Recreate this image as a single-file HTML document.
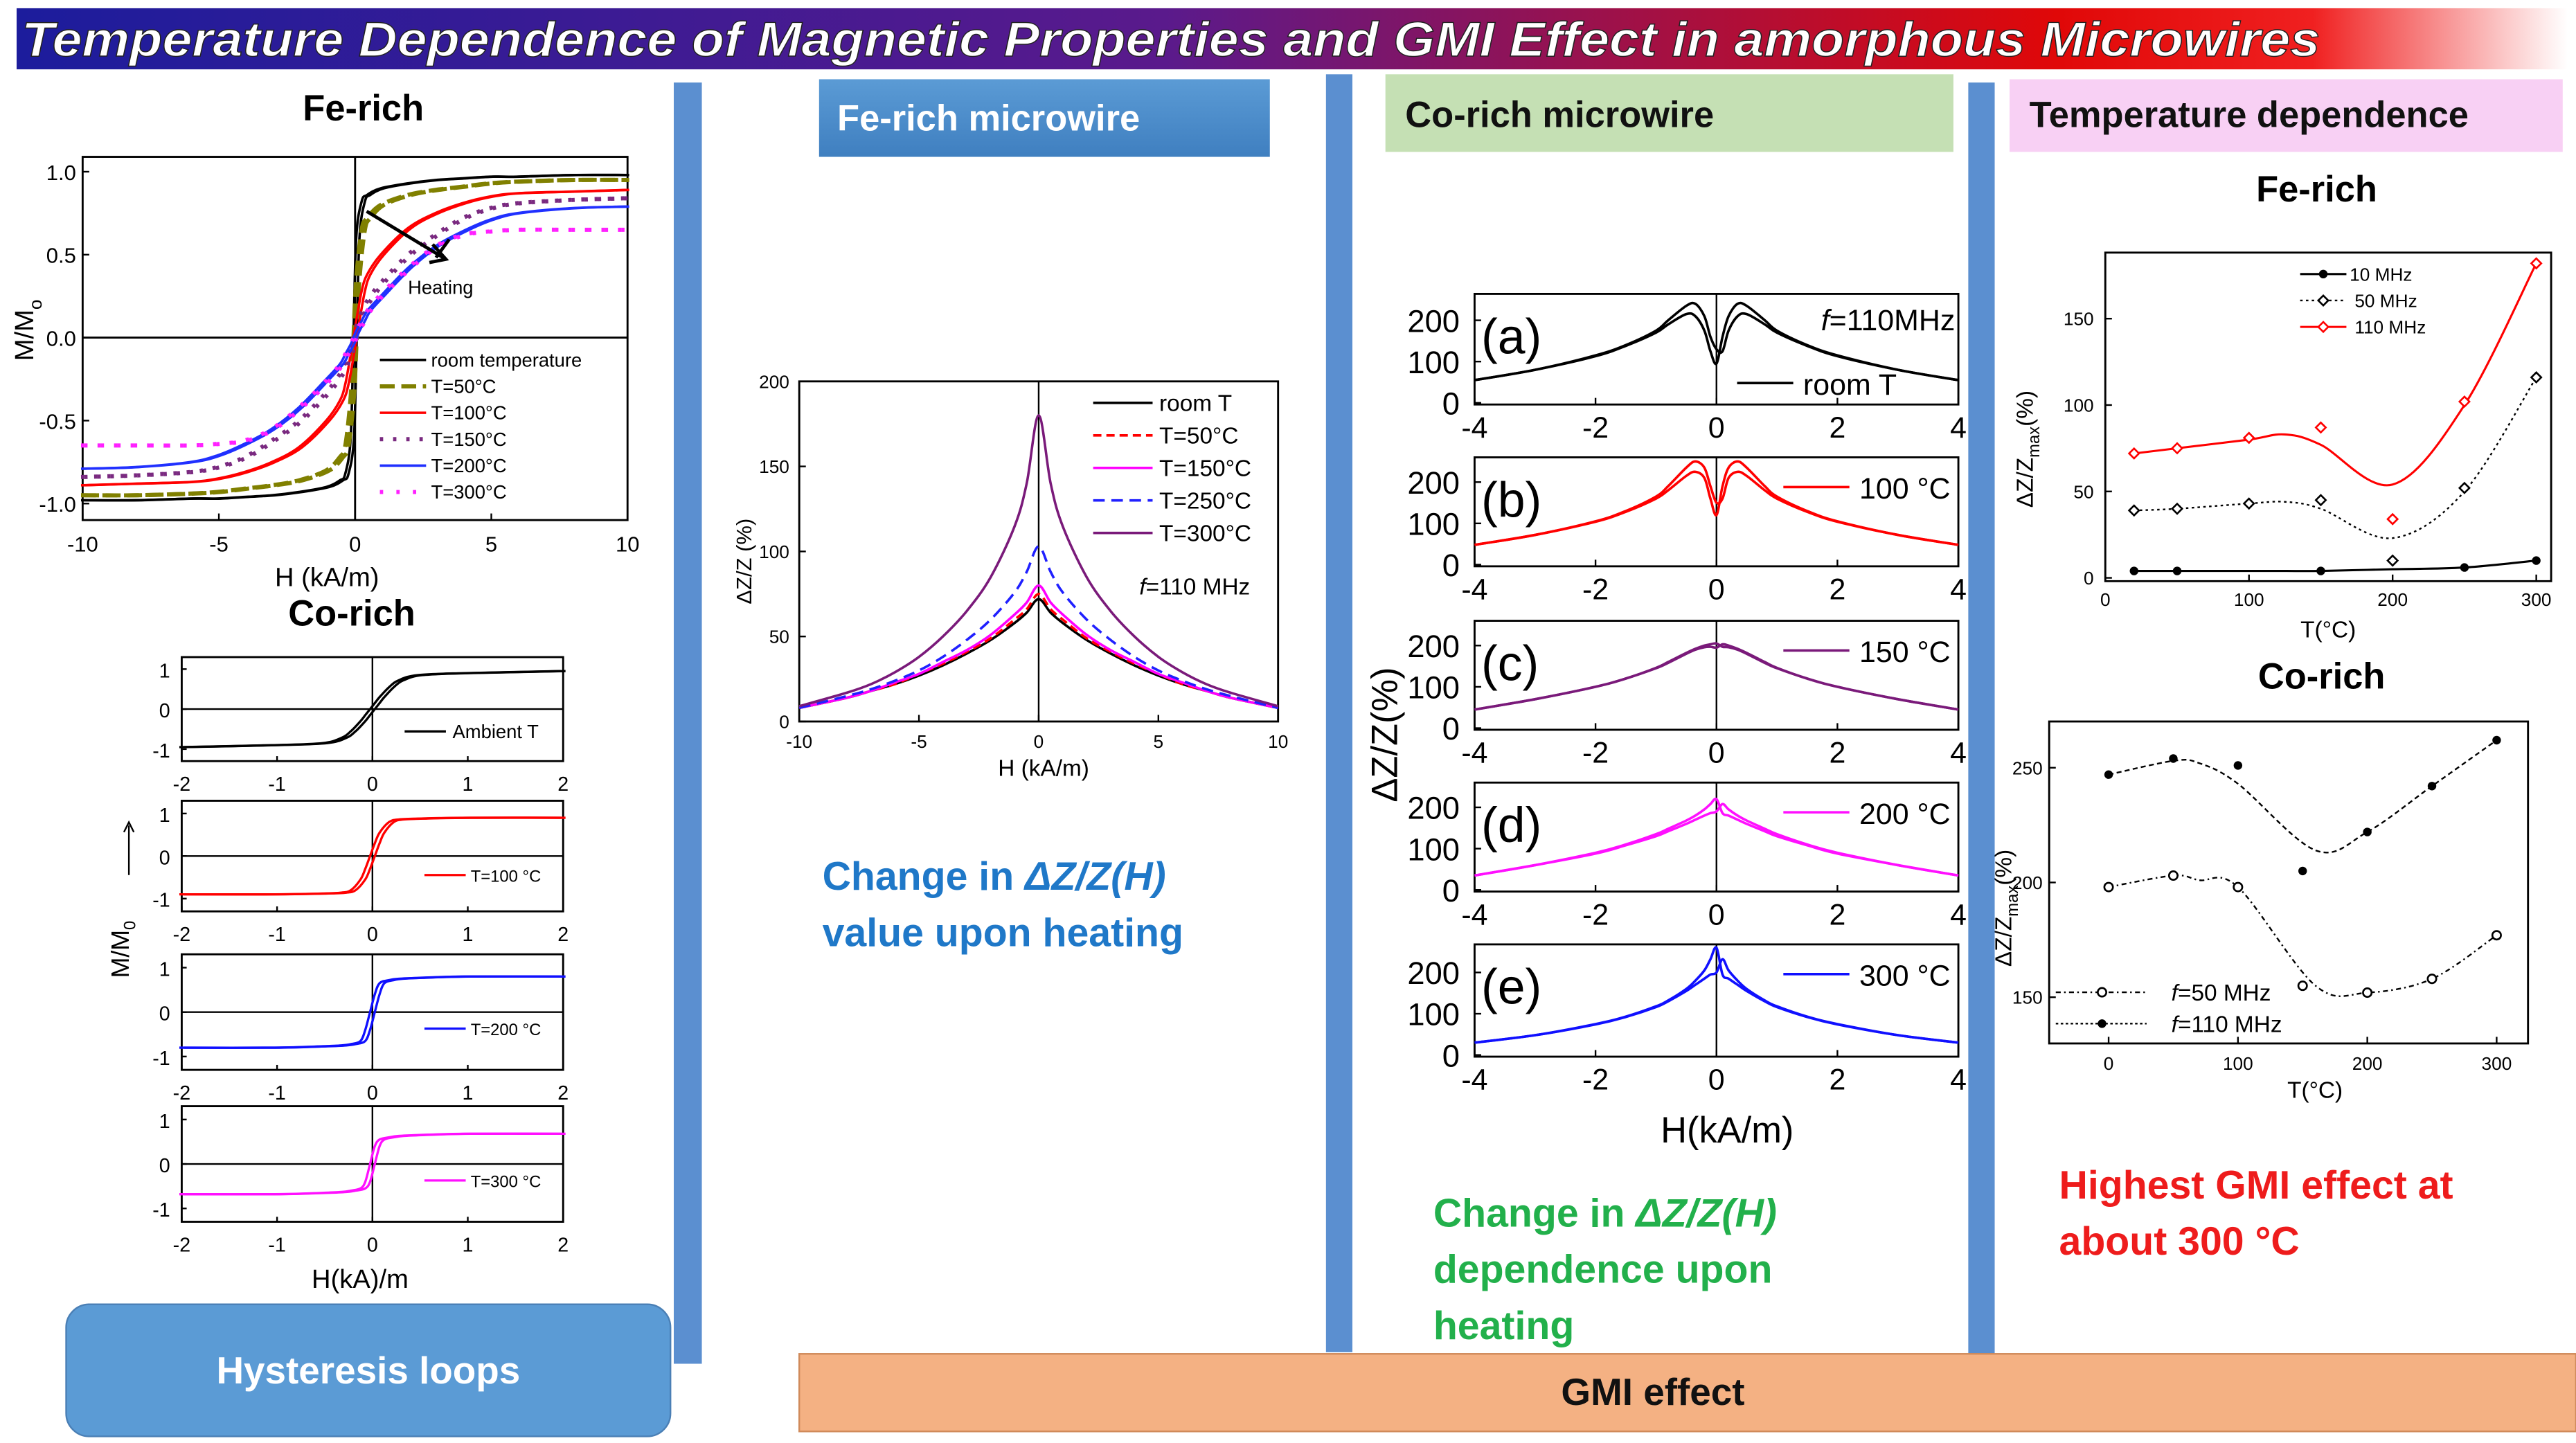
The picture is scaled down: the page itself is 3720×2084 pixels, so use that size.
<!DOCTYPE html>
<html><head><meta charset="utf-8"><style>
html,body{margin:0;padding:0;background:#fff;}
svg{display:block;}
text{font-family:"Liberation Sans",sans-serif;}
</style></head><body>
<svg id="root" xmlns="http://www.w3.org/2000/svg" width="3720" height="2084" viewBox="0 0 1560 874">
<defs>
<linearGradient id="tg" x1="0" x2="1" y1="0" y2="0">
<stop offset="0" stop-color="#1c1c9c"/><stop offset="0.45" stop-color="#5a1a8c"/><stop offset="0.8" stop-color="#e00808"/><stop offset="0.9" stop-color="#f02020"/><stop offset="1" stop-color="#ffffff"/>
</linearGradient>
<linearGradient id="bg1" x1="0" x2="0" y1="0" y2="1"><stop offset="0" stop-color="#5b9bd5"/><stop offset="1" stop-color="#3f7fc0"/></linearGradient>
</defs>
<rect x="10" y="5" width="1545" height="37" fill="url(#tg)"/>
<text x="13" y="34" font-size="29.5" font-weight="bold" font-style="italic" fill="#fff" stroke="#222" stroke-width="0.6" textLength="1392" lengthAdjust="spacingAndGlyphs">Temperature Dependence of Magnetic Properties and GMI Effect in amorphous Microwires</text>
<rect x="408" y="50" width="17" height="776" fill="#5b8fd0"/>
<rect x="803" y="45" width="16" height="774" fill="#5b8fd0"/>
<rect x="1192" y="50" width="16" height="776" fill="#5b8fd0"/>
<rect x="496" y="48" width="273" height="47" fill="url(#bg1)"/>
<text x="507" y="79" font-size="22" font-weight="bold" fill="#fff">Fe-rich microwire</text>
<rect x="839" y="45" width="344" height="47" fill="#c5e0b4"/>
<text x="851" y="77" font-size="22" font-weight="bold" fill="#111">Co-rich microwire</text>
<rect x="1217" y="48" width="335" height="44" fill="#f8d0f4"/>
<text x="1229" y="77" font-size="22" font-weight="bold" fill="#111">Temperature dependence</text>
<text x="220" y="73" font-size="22" font-weight="bold" text-anchor="middle">Fe-rich</text>
<text x="213" y="379" font-size="22" font-weight="bold" text-anchor="middle">Co-rich</text>
<text x="1403" y="122" font-size="22" font-weight="bold" text-anchor="middle">Fe-rich</text>
<text x="1406" y="417" font-size="22" font-weight="bold" text-anchor="middle">Co-rich</text>
<rect x="40" y="790" width="366" height="80" rx="14" fill="#5b9bd5" stroke="#4a7fb5"/>
<text x="223" y="838" font-size="23" font-weight="bold" fill="#fff" text-anchor="middle">Hysteresis  loops</text>
<rect x="484" y="820" width="1076" height="47" fill="#f4b183" stroke="#d08a5a"/>
<text x="1001" y="851" font-size="23" font-weight="bold" fill="#111" text-anchor="middle">GMI effect</text>
<text x="498" y="539" font-size="24" font-weight="bold" fill="#1f78c8">Change in <tspan font-style="italic">ΔZ/Z(H)</tspan></text>
<text x="498" y="573" font-size="24" font-weight="bold" fill="#1f78c8">value upon heating</text>
<text x="868" y="743" font-size="24" font-weight="bold" fill="#22b04b">Change in <tspan font-style="italic">ΔZ/Z(H)</tspan></text>
<text x="868" y="777" font-size="24" font-weight="bold" fill="#22b04b">dependence upon</text>
<text x="868" y="811" font-size="24" font-weight="bold" fill="#22b04b">heating</text>
<text x="1247" y="726" font-size="24" font-weight="bold" fill="#ee1c1c">Highest GMI effect at</text>
<text x="1247" y="760" font-size="24" font-weight="bold" fill="#ee1c1c">about 300 °C</text>
<g id="charts"></g>
</svg>
<script>
// ---- Fe-rich hysteresis data (upper half, mirrored) ----
const feH = [0,0.1,0.3,0.5,1,2,3,4,5,6,8,10];
const feRT = [0,0.6,0.82,0.86,0.9,0.93,0.95,0.96,0.97,0.97,0.98,0.98];
const fe50 = [0,0.35,0.65,0.72,0.8,0.86,0.89,0.91,0.93,0.94,0.95,0.95];
const fe100 = [0,0.1,0.28,0.38,0.5,0.66,0.75,0.81,0.85,0.87,0.88,0.89];
const fe150 = [0,0.06,0.15,0.22,0.33,0.5,0.62,0.72,0.78,0.81,0.83,0.84];
const fe200 = [0,0.04,0.1,0.16,0.25,0.42,0.55,0.64,0.71,0.75,0.78,0.79];
const fe300 = [0,0.04,0.1,0.16,0.26,0.42,0.55,0.62,0.64,0.65,0.65,0.65];
const feLegend = ["room temperature","T=50°C","T=100°C","T=150°C","T=200°C","T=300°C"];
const feXTicks = [-10,-5,0,5,10];
const feYTicks = [-1.0,-0.5,0.0,0.5,1.0];
// ---- Co-rich hysteresis ----
const coH = [0,0.05,0.1,0.2,0.3,0.5,1,2];
const coAmb = [0,0.15,0.3,0.55,0.72,0.85,0.9,0.95];
const co100 = [0,0.3,0.55,0.8,0.86,0.88,0.9,0.9];
const co200 = [0,0.4,0.65,0.72,0.75,0.77,0.8,0.8];
const co300 = [0,0.4,0.55,0.6,0.63,0.65,0.68,0.68];
const coLabels = ["Ambient T","T=100 °C","T=200 °C","T=300 °C"];
const coXTicks = [-2,-1,0,1,2];
const coYTicks = [-1,0,1];
// ---- Fe-rich GMI ----
const gH = [0,0.5,1,2,3,4,5,6,7,8,10];
const gRT = [72,64,58,48,40,33,27,22,18,14,8];
const g50 = [75,66,60,49,41,34,28,22,18,14,8];
const g150 = [80,70,63,51,42,35,28,23,18,14,8];
const g250 = [103,88,76,60,48,38,30,24,19,15,8];
const g300 = [180,140,115,85,65,50,38,29,22,17,9];
const gLegend = ["room T","T=50°C","T=150°C","T=250°C","T=300°C"];
const gXTicks = [-10,-5,0,5,10];
const gYTicks = [0,50,100,150,200];
// ---- Co-rich GMI panels ----
const cH = [0,0.1,0.2,0.35,0.5,0.8,1,1.5,2,3,4];
const caA = [130,160,210,240,235,200,175,140,115,80,55];
const caB = [95,125,175,210,215,190,170,138,113,80,55];
const cbA = [150,190,235,250,235,190,165,130,105,72,48];
const cbB = [120,160,210,225,215,180,160,128,104,72,48];
const ccA = [205,203,200,192,182,160,146,120,100,70,45];
const ccB = [195,197,196,190,180,158,145,120,100,70,45];
const cdA = [220,208,195,180,168,148,135,110,90,60,35];
const cdB = [190,186,180,170,160,142,130,108,88,60,35];
const ceA = [260,232,205,180,160,132,118,93,75,48,30];
const ceB = [200,195,185,170,155,130,116,92,74,48,30];
const cLetters = ["(a)","(b)","(c)","(d)","(e)"];
const cLegend = ["room T","100 °C","150 °C","200 °C","300 °C"];
const cXTicks = [-4,-2,0,2,4];
const cYTicks = [0,100,200];
// ---- Fe-rich temperature dependence ----
const tT = [20,50,100,150,200,250,300];
const t10T = [20,50,150,250,300];
const t10 = [4,4,4,6,10];
const t50 = [39,40,43,45,10,52,116];
const t110 = [72,75,81,87,34,102,182];
const fitT = [20,50,100,125,150,200,250,300];
const fit50 = [39,40,43,44,40,23,50,116];
const fit110 = [72,75,80,83,77,54,100,182];
const fit10 = [4,4,4,4,4,5,6,10];
const tXTicks = [0,100,200,300];
const tYTicks = [0,50,100,150];
// ---- Co-rich temperature dependence ----
const cT = [0,50,100,150,200,250,300];
const c110 = [247,254,251,205,222,242,262];
const c50 = [198,203,198,155,152,158,177];
const cfitT = [0,50,70,100,160,200,250,300];
const cfit110 = [247,253,252,243,214,222,242,262];
const cfit50 = [198,203,201,198,155,152,158,177];
const ctXTicks = [0,100,200,300];
const ctYTicks = [150,200,250];

const NS="http://www.w3.org/2000/svg";
const G=document.getElementById('charts');
function mk(tag,attrs,parent){const e=document.createElementNS(NS,tag);for(const k in attrs)e.setAttribute(k,attrs[k]);(parent||G).appendChild(e);return e;}
function lin(d0,d1,r0,r1){return v=>r0+(v-d0)/(d1-d0)*(r1-r0);}
function smooth(pts){let d='M'+pts[0][0].toFixed(2)+','+pts[0][1].toFixed(2);
 for(let i=0;i<pts.length-1;i++){const p0=pts[i-1]||pts[i],p1=pts[i],p2=pts[i+1],p3=pts[i+2]||p2;
  const c1=[p1[0]+(p2[0]-p0[0])/6,p1[1]+(p2[1]-p0[1])/6],c2=[p2[0]-(p3[0]-p1[0])/6,p2[1]-(p3[1]-p1[1])/6];
  d+='C'+c1[0].toFixed(2)+','+c1[1].toFixed(2)+' '+c2[0].toFixed(2)+','+c2[1].toFixed(2)+' '+p2[0].toFixed(2)+','+p2[1].toFixed(2);}
 return d;}
function mirror(H,M,off,xs,ys){const pts=[];for(let i=H.length-1;i>=0;i--)pts.push([xs(-H[i]+off),ys(-M[i])]);for(let i=1;i<H.length;i++)pts.push([xs(H[i]+off),ys(M[i])]);return pts;}
function txt(x,y,s,size,anchor,name){const t=mk('text',{x:x,y:y,'font-size':size,'text-anchor':anchor||'start'});t.textContent=s;
 
 
 return t;}

// ===== Fe-rich hysteresis =====
{const xs=lin(-10,10,50,380),ys=lin(-1,1,305,104);
 const box=mk('rect',{x:50,y:95,width:330,height:220,fill:'none',stroke:'#000','stroke-width':1.2});
 
 
 const z1=mk('line',{x1:xs(0),x2:xs(0),y1:95,y2:315,stroke:'#000','stroke-width':1.2});
 
 
 const z2=mk('line',{x1:50,x2:380,y1:ys(0),y2:ys(0),stroke:'#000','stroke-width':1.2});
 
 
 feXTicks.forEach(v=>{txt(xs(v),334,String(v),13,'middle','fe-hyst-x-tick');mk('line',{x1:xs(v),x2:xs(v),y1:315,y2:311,stroke:'#000'});});
 feYTicks.forEach(v=>{txt(46,ys(v)+5,v.toFixed(1),13,'end','fe-hyst-y-tick');mk('line',{x1:50,x2:54,y1:ys(v),y2:ys(v),stroke:'#000'});});
 txt(198,355,'H (kA/m)',16,'middle','fe-hyst-x-title');
 const yt=mk('text',{x:0,y:0,'font-size':16,'text-anchor':'middle',transform:'translate(20,200) rotate(-90)'});
 yt.innerHTML='M/M<tspan font-size="11" dy="5">o</tspan>';
 
 
 const series=[[feRT,'#000','',1.5],[fe50,'#808000','9,4',2.5],[fe100,'#ff0000','',1.5],[fe150,'#7a2a80','2,6',2.5],[fe200,'#2030ff','',1.5],[fe300,'#ff20ff','2,8',2.5]];
 series.forEach((s,i)=>{[0.06,-0.06].forEach(o=>{const p=mk('path',{d:smooth(mirror(feH,s[0],o,xs,ys)),fill:'none',stroke:s[1],'stroke-width':s[3],'stroke-dasharray':s[2]});
   
   });
  const ly=222+i*16;
  const l=mk('line',{x1:230,x2:258,y1:ly-4,y2:ly-4,stroke:s[1],'stroke-width':s[3],'stroke-dasharray':s[2]});
  
  
  txt(261,ly,feLegend[i],11.5,'start','fe-hyst-legend-entry');});
 const ar=mk('path',{d:'M222,128 L270,157 M262,148 L270,157 L260,159 M264,156 L272,145',fill:'none',stroke:'#000','stroke-width':2});
 
 
 txt(247,178,'Heating',11.5,'start','heating-label');}

// ===== Co-rich hysteresis panels =====
{const xs=lin(-2,2,110,341);const tops=[398,485,578,670],bots=[461,552,648,740];
 const data=[coAmb,co100,co200,co300],cols=['#000','#ff0000','#1010ff','#ff10ff'];
 data.forEach((M,i)=>{const t=tops[i],b=bots[i],ys=lin(-1.3,1.3,b,t);
  const r=mk('rect',{x:110,y:t,width:231,height:b-t,fill:'none',stroke:'#000','stroke-width':1.2});
  
  
  mk('line',{x1:xs(0),x2:xs(0),y1:t,y2:b,stroke:'#000'});
  mk('line',{x1:110,x2:341,y1:ys(0),y2:ys(0),stroke:'#000'});
  coXTicks.forEach(v=>{txt(xs(v),b+18,String(v),12,'middle','co-hyst-x-tick');mk('line',{x1:xs(v),x2:xs(v),y1:b,y2:b-3,stroke:'#000'});});
  coYTicks.forEach(v=>{txt(103,ys(v)+5,String(v),12,'end','co-hyst-y-tick');mk('line',{x1:110,x2:113,y1:ys(v),y2:ys(v),stroke:'#000'});});
  [0.025,-0.025].forEach(o=>{const p=mk('path',{d:smooth(mirror(coH,M,o,xs,ys)),fill:'none',stroke:cols[i],'stroke-width':1.4});
   
   });
  const ly=t+49;
  mk('line',{x1:i==0?245:257,x2:i==0?270:282,y1:ly-4,y2:ly-4,stroke:cols[i],'stroke-width':1.4});
  txt(i==0?274:285,ly,coLabels[i],i==0?11.5:10,'start','co-hyst-legend');});
 txt(218,780,'H(kA)/m',16,'middle','co-hyst-x-title');
 const yt=mk('text',{x:0,y:0,'font-size':15,'text-anchor':'middle',transform:'translate(78,575) rotate(-90)'});
 yt.innerHTML='M/M<tspan font-size="10" dy="4">0</tspan>';
 
 
 mk('line',{x1:78,x2:78,y1:530,y2:500,stroke:'#000'});mk('path',{d:'M75,504 L78,498 L81,504',fill:'none',stroke:'#000'});}

// ===== Fe-rich GMI =====
{const xs=lin(-10,10,484,774),ys=lin(0,200,437,231);
 const r=mk('rect',{x:484,y:231,width:290,height:206,fill:'none',stroke:'#000','stroke-width':1.2});
 
 
 mk('line',{x1:xs(0),x2:xs(0),y1:231,y2:437,stroke:'#000'});
 gXTicks.forEach(v=>{txt(xs(v),453,String(v),11,'middle','fe-gmi-x-tick');mk('line',{x1:xs(v),x2:xs(v),y1:437,y2:433,stroke:'#000'});});
 gYTicks.forEach(v=>{txt(478,ys(v)+4,String(v),11,'end','fe-gmi-y-tick');mk('line',{x1:484,x2:488,y1:ys(v),y2:ys(v),stroke:'#000'});});
 txt(632,470,'H (kA/m)',14,'middle','fe-gmi-x-title');
 const yt=mk('text',{x:0,y:0,'font-size':13,'text-anchor':'middle',transform:'translate(455,340) rotate(-90)'});
 yt.textContent='ΔZ/Z (%)';
 
 
 const ser=[[gRT,'#000',''],[g50,'#ff0000','5,3'],[g150,'#ff00ff',''],[g250,'#2020ff','7,4'],[g300,'#7a1a7a','']];
 ser.forEach((s,i)=>{const pts=[];for(let k=gH.length-1;k>=0;k--)pts.push([xs(-gH[k]),ys(s[0][k])]);for(let k=1;k<gH.length;k++)pts.push([xs(gH[k]),ys(s[0][k])]);
  const p=mk('path',{d:smooth(pts),fill:'none',stroke:s[1],'stroke-width':1.5,'stroke-dasharray':s[2]});
  
  
  const ly=249+i*19.7;
  mk('line',{x1:662,x2:698,y1:ly-5,y2:ly-5,stroke:s[1],'stroke-width':1.5,'stroke-dasharray':s[2]});
  txt(702,ly,gLegend[i],14,'start','fe-gmi-legend-entry');});
 const f=txt(690,360,'',14,'start','fe-gmi-frequency');f.innerHTML='<tspan font-style="italic">f</tspan>=110 MHz';}

// ===== Co-rich GMI panels =====
{const xs=lin(-4,4,893,1186);const tops=[178,277,376,474,572],bots=[245,343,442,540,640];
 const sets=[[caA,caB,'#000'],[cbA,cbB,'#ff0000'],[ccA,ccB,'#7a1a7a'],[cdA,cdB,'#ff10ff'],[ceA,ceB,'#1010ff']];
 sets.forEach((s,i)=>{const t=tops[i],b=bots[i],ys=lin(0,200,b-1,b-51);
  const r=mk('rect',{x:893,y:t,width:293,height:b-t,fill:'none',stroke:'#000','stroke-width':1.2});
  
  
  mk('line',{x1:xs(0),x2:xs(0),y1:t,y2:b,stroke:'#000'});
  cXTicks.forEach(v=>{txt(xs(v),b+20,String(v),18,'middle','co-gmi-x-tick');mk('line',{x1:xs(v),x2:xs(v),y1:b,y2:b-4,stroke:'#000'});});
  cYTicks.forEach(v=>{txt(884,ys(v)+7,String(v),19,'end','co-gmi-y-tick');mk('line',{x1:893,x2:897,y1:ys(v),y2:ys(v),stroke:'#000'});});
  [s[0],s[1]].forEach((arr,j)=>{const other=j?s[0]:s[1];const pts=[];
   for(let k=cH.length-1;k>=0;k--)pts.push([xs(-cH[k]),ys(other[k])]);for(let k=1;k<cH.length;k++)pts.push([xs(cH[k]),ys(arr[k])]);
   const p=mk('path',{d:smooth(pts),fill:'none',stroke:s[2],'stroke-width':1.5});
   
   });
  txt(897,t+36,cLetters[i],30,'start','co-gmi-panel-letter');
  if(i==0){const f=txt(1184,t+22,'',18,'end','co-gmi-frequency');f.innerHTML='<tspan font-style="italic">f</tspan>=110MHz';
   mk('line',{x1:1052,x2:1086,y1:t+54,y2:t+54,stroke:'#000','stroke-width':1.5});txt(1092,t+61,cLegend[i],18,'start','co-gmi-legend');}
  else{mk('line',{x1:1080,x2:1120,y1:t+18,y2:t+18,stroke:s[2],'stroke-width':1.5});txt(1126,t+25,cLegend[i],18,'start','co-gmi-legend');}});
 const yt=mk('text',{x:0,y:0,'font-size':22,'text-anchor':'middle',transform:'translate(846,445) rotate(-90)'});
 yt.textContent='ΔZ/Z(%)';
 
 
 txt(1046,692,'H(kA/m)',22,'middle','co-gmi-x-title');}

// ===== marker helpers =====
function marker(kind,x,y,col){let e;
 if(kind=='dot')e=mk('circle',{cx:x,cy:y,r:2.6,fill:col});
 else if(kind=='diamond')e=mk('path',{d:`M${x-3},${y}L${x},${y-3}L${x+3},${y}L${x},${y+3}Z`,fill:'#fff',stroke:col,'stroke-width':1.1});
 else e=mk('circle',{cx:x,cy:y,r:2.6,fill:'#fff',stroke:col,'stroke-width':1.1});
 return e;}

// ===== Fe-rich T dependence =====
{const xs=lin(0,300,1275,1536),ys=lin(0,150,350,193);
 const r=mk('rect',{x:1275,y:153,width:270,height:199,fill:'none',stroke:'#000','stroke-width':1.2});
 
 
 tXTicks.forEach(v=>{txt(xs(v),367,String(v),11,'middle','fe-temp-x-tick');mk('line',{x1:xs(v),x2:xs(v),y1:352,y2:348,stroke:'#000'});});
 tYTicks.forEach(v=>{txt(1268,ys(v)+4,String(v),11,'end','fe-temp-y-tick');mk('line',{x1:1275,x2:1279,y1:ys(v),y2:ys(v),stroke:'#000'});});
 txt(1410,386,'T(°C)',14,'middle','fe-temp-x-title');
 const yt=mk('text',{x:0,y:0,'font-size':14,'text-anchor':'middle',transform:'translate(1231,272) rotate(-90)'});
 yt.innerHTML='ΔZ/Z<tspan font-size="10" dy="4">max</tspan><tspan dy="-4">(%)</tspan>';
 
 
 const l10=mk('path',{d:smooth(fitT.map((t,i)=>[xs(t),ys(fit10[i])])),fill:'none',stroke:'#000','stroke-width':1.3});
 
 
 const l50=mk('path',{d:smooth(fitT.map((t,i)=>[xs(t),ys(fit50[i])])),fill:'none',stroke:'#000','stroke-width':1,'stroke-dasharray':'1.5,2'});
 
 
 const l110=mk('path',{d:smooth(fitT.map((t,i)=>[xs(t),ys(fit110[i])])),fill:'none',stroke:'#ff0000','stroke-width':1.3});
 
 
 t10T.forEach((t,i)=>{const m=marker('dot',xs(t),ys(t10[i]),'#000');
  
  });
 tT.forEach((t,i)=>{const m=marker('diamond',xs(t),ys(t50[i]),'#000');
  
  
  const n=marker('diamond',xs(t),ys(t110[i]),'#ff0000');
  
  });
 mk('line',{x1:1393,x2:1421,y1:166,y2:166,stroke:'#000','stroke-width':1.3});marker('dot',1407,166,'#000');txt(1423,170,'10 MHz',11,'start','fe-temp-legend-10');
 mk('line',{x1:1393,x2:1421,y1:182,y2:182,stroke:'#000','stroke-dasharray':'1.5,2'});marker('diamond',1407,182,'#000');txt(1426,186,'50 MHz',11,'start','fe-temp-legend-50');
 mk('line',{x1:1393,x2:1421,y1:198,y2:198,stroke:'#ff0000','stroke-width':1.3});marker('diamond',1407,198,'#ff0000');txt(1426,202,'110 MHz',11,'start','fe-temp-legend-110');}

// ===== Co-rich T dependence =====
{const xs=lin(0,300,1277,1512),ys=lin(150,250,604,465);
 const r=mk('rect',{x:1241,y:437,width:290,height:195,fill:'none',stroke:'#000','stroke-width':1.2});
 
 
 ctXTicks.forEach(v=>{txt(xs(v),648,String(v),11,'middle','co-temp-x-tick');mk('line',{x1:xs(v),x2:xs(v),y1:632,y2:628,stroke:'#000'});});
 ctYTicks.forEach(v=>{txt(1237,ys(v)+4,String(v),11,'end','co-temp-y-tick');mk('line',{x1:1241,x2:1245,y1:ys(v),y2:ys(v),stroke:'#000'});});
 txt(1402,665,'T(°C)',14,'middle','co-temp-x-title');
 const yt=mk('text',{x:0,y:0,'font-size':14,'text-anchor':'middle',transform:'translate(1218,550) rotate(-90)'});
 yt.innerHTML='ΔZ/Z<tspan font-size="10" dy="4">max</tspan><tspan dy="-4">(%)</tspan>';
 
 
 const a=mk('path',{d:smooth(cfitT.map((t,i)=>[xs(t),ys(cfit110[i])])),fill:'none',stroke:'#000','stroke-dasharray':'3,2'});
 
 
 const b=mk('path',{d:smooth(cfitT.map((t,i)=>[xs(t),ys(cfit50[i])])),fill:'none',stroke:'#000','stroke-dasharray':'3,2,1,2'});
 
 
 cT.forEach((t,i)=>{const m=marker('dot',xs(t),ys(c110[i]),'#000');
  
  
  const n=marker('circle',xs(t),ys(c50[i]),'#000');
  
  });
 mk('line',{x1:1245,x2:1300,y1:601,y2:601,stroke:'#000','stroke-dasharray':'3,2,1,2'});marker('circle',1273,601,'#000');
 const l1=txt(1315,606,'',14,'start','co-temp-legend-50');l1.innerHTML='<tspan font-style="italic">f</tspan>=50 MHz';
 mk('line',{x1:1245,x2:1300,y1:620,y2:620,stroke:'#000','stroke-dasharray':'1.5,1.5'});marker('dot',1273,620,'#000');
 const l2=txt(1315,625,'',14,'start','co-temp-legend-110');l2.innerHTML='<tspan font-style="italic">f</tspan>=110 MHz';}
</script>
</body></html>
